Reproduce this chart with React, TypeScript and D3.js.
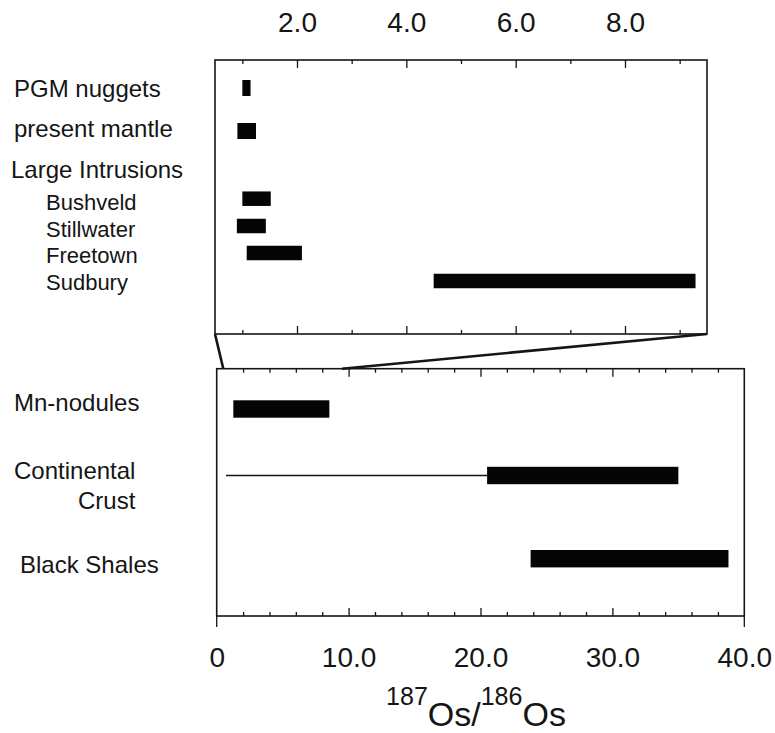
import React, { useEffect, useRef } from 'react';
import * as d3 from 'd3';

// upper (expanded) panel
const topCategories = ["PGM nuggets", "present mantle", "Bushveld", "Stillwater", "Freetown", "Sudbury"];
const topLow = [1.0, 0.91, 1.0, 0.9, 1.08, 4.5];
const topHigh = [1.15, 1.25, 1.52, 1.43, 2.09, 9.29];
const topTickLabels = [2, 4, 6, 8];

// lower (full range) panel
const bottomCategories = ["Mn-nodules", "Continental Crust", "Black Shales"];
const bottomLow = [1.26, 20.5, 23.8];
const bottomHigh = [8.54, 35.0, 38.8];
const crustTailLow = 0.7; // thin line extending continental crust range
const bottomTickLabels = [0, 10, 20, 30, 40];

const FONT = "'Liberation Sans', Arial, Helvetica, sans-serif";

const App = () => {
    const svgRef = useRef();

    useEffect(() => {
        const svg = d3.select(svgRef.current);
        svg.selectAll("*").remove();

        const ink = "#151515";

        // panel boxes
        const top = { left: 215, right: 707, top: 60, bottom: 334 };
        const bot = { left: 216.7, right: 744.3, top: 368.7, bottom: 616 };

        const xTop = d3.scaleLinear().domain([0.5, 9.5]).range([top.left, top.right]);
        const xBot = d3.scaleLinear().domain([0, 40]).range([bot.left, bot.right]);

        const yTop = d3.scaleOrdinal()
            .domain(topCategories)
            .range([88, 131, 198.7, 226, 253, 281]);
        const yBot = d3.scaleOrdinal()
            .domain(bottomCategories)
            .range([409, 475.5, 558.7]);

        //draw a box
        const drawBox = (b, w) => {
            svg.append("rect")
                .attr("x", b.left)
                .attr("y", b.top)
                .attr("width", b.right - b.left)
                .attr("height", b.bottom - b.top)
                .attr("fill", "none")
                .attr("stroke", ink)
                .attr("stroke-width", w);
        };
        drawBox(top, 1.6);
        drawBox(bot, 1.6);

        // inward ticks on both edges of a panel
        const drawTicks = (scale, b, majors, minors) => {
            const mk = (axisFn, y, values, size) => {
                const g = svg.append("g")
                    .attr("transform", `translate(0,${y})`)
                    .call(axisFn(scale).tickValues(values).tickSizeInner(size).tickSizeOuter(0).tickFormat(""));
                g.select(".domain").remove();
                g.selectAll("line").attr("stroke", ink).attr("stroke-width", 1.3);
            };
            mk(d3.axisTop, b.top, majors, -8);
            mk(d3.axisTop, b.top, minors, -4);
            mk(d3.axisBottom, b.bottom, majors, -8);
            mk(d3.axisBottom, b.bottom, minors, -4);
        };
        drawTicks(xTop, top, [2, 4, 6, 8], [1, 3, 5, 7, 9]);
        drawTicks(xBot, bot, [10, 20, 30], d3.range(2, 40, 2).filter(d => d % 10 !== 0));

        // outward end ticks of bottom axis
        svg.append("g")
            .selectAll("line")
            .data([0, 40])
            .enter().append("line")
            .attr("x1", d => xBot(d))
            .attr("x2", d => xBot(d))
            .attr("y1", bot.bottom)
            .attr("y2", bot.bottom + 11)
            .attr("stroke", ink)
            .attr("stroke-width", 1.3);

        //top tick labels
        const topAxis = svg.append("g")
            .attr("transform", `translate(0,${top.top})`)
            .call(d3.axisTop(xTop).tickValues(topTickLabels).tickSize(0).tickPadding(28).tickFormat(d3.format(".1f")));
        topAxis.select(".domain").remove();
        topAxis.selectAll("text")
            .attr("font-family", FONT)
            .attr("font-size", "28px")
            .attr("fill", ink);

        //bottom tick labels
        const botAxis = svg.append("g")
            .attr("transform", `translate(0,${bot.bottom})`)
            .call(d3.axisBottom(xBot).tickValues(bottomTickLabels).tickSize(0).tickPadding(31)
                .tickFormat(d => d === 0 ? "0" : d3.format(".1f")(d)));
        botAxis.select(".domain").remove();
        botAxis.selectAll("text")
            .attr("font-family", FONT)
            .attr("font-size", "28px")
            .attr("fill", ink);

        // zoom connector lines
        svg.append("line")
            .attr("x1", xTop(0.5)).attr("y1", top.bottom)
            .attr("x2", xBot(0.5)).attr("y2", bot.top)
            .attr("stroke", ink).attr("stroke-width", 2.6);
        svg.append("line")
            .attr("x1", xTop(9.5)).attr("y1", top.bottom)
            .attr("x2", xBot(9.5)).attr("y2", bot.top)
            .attr("stroke", ink).attr("stroke-width", 2.6);

        // top bars
        const topData = topCategories.map((c, i) => ({ c, lo: topLow[i], hi: topHigh[i], h: i < 2 ? 16 : 14.5 }));
        svg.append("g")
            .selectAll("rect")
            .data(topData)
            .enter().append("rect")
            .attr("x", d => xTop(d.lo))
            .attr("y", d => yTop(d.c) - d.h / 2)
            .attr("width", d => xTop(d.hi) - xTop(d.lo))
            .attr("height", d => d.h)
            .attr("fill", "#050505");

        // bottom bars
        const botData = bottomCategories.map((c, i) => ({ c, lo: bottomLow[i], hi: bottomHigh[i] }));
        svg.append("line")
            .attr("x1", xBot(crustTailLow))
            .attr("x2", xBot(bottomLow[1]))
            .attr("y1", yBot("Continental Crust"))
            .attr("y2", yBot("Continental Crust"))
            .attr("stroke", ink)
            .attr("stroke-width", 1.4);
        svg.append("g")
            .selectAll("rect")
            .data(botData)
            .enter().append("rect")
            .attr("x", d => xBot(d.lo))
            .attr("y", d => yBot(d.c) - 8.7)
            .attr("width", d => xBot(d.hi) - xBot(d.lo))
            .attr("height", 17.4)
            .attr("fill", "#050505");

        // row labels
        const labels = [
            { t: "PGM nuggets", x: 14, y: 97, s: 24 },
            { t: "present mantle", x: 14, y: 137, s: 24 },
            { t: "Large Intrusions", x: 11, y: 178, s: 24 },
            { t: "Bushveld", x: 46, y: 210, s: 22 },
            { t: "Stillwater", x: 46, y: 237, s: 22 },
            { t: "Freetown", x: 46, y: 263, s: 22 },
            { t: "Sudbury", x: 46, y: 290, s: 22 },
            { t: "Mn-nodules", x: 14, y: 411, s: 24 },
            { t: "Continental", x: 14, y: 479, s: 24 },
            { t: "Crust", x: 78, y: 509, s: 24 },
            { t: "Black Shales", x: 20, y: 573, s: 24 }
        ];
        svg.append("g")
            .selectAll("text")
            .data(labels)
            .enter().append("text")
            .attr("x", d => d.x)
            .attr("y", d => d.y)
            .attr("font-family", FONT)
            .attr("font-size", d => d.s + "px")
            .attr("fill", ink)
            .text(d => d.t);

        // axis title 187Os/186Os
        const title = svg.append("text")
            .attr("x", 476)
            .attr("y", 726)
            .attr("text-anchor", "middle")
            .attr("font-family", FONT)
            .attr("fill", ink);
        title.append("tspan").attr("font-size", "25px").attr("dy", -21).text("187");
        title.append("tspan").attr("font-size", "34px").attr("dy", 21).text("Os/");
        title.append("tspan").attr("font-size", "25px").attr("dy", -21).text("186");
        title.append("tspan").attr("font-size", "34px").attr("dy", 21).text("Os");
    }, []);

    return (
        <svg
            ref={svgRef}
            width={775}
            height={733}
            style={{ position: 'absolute', left: 0, top: 0, background: '#fff' }}
        ></svg>
    );
};

export default App;
